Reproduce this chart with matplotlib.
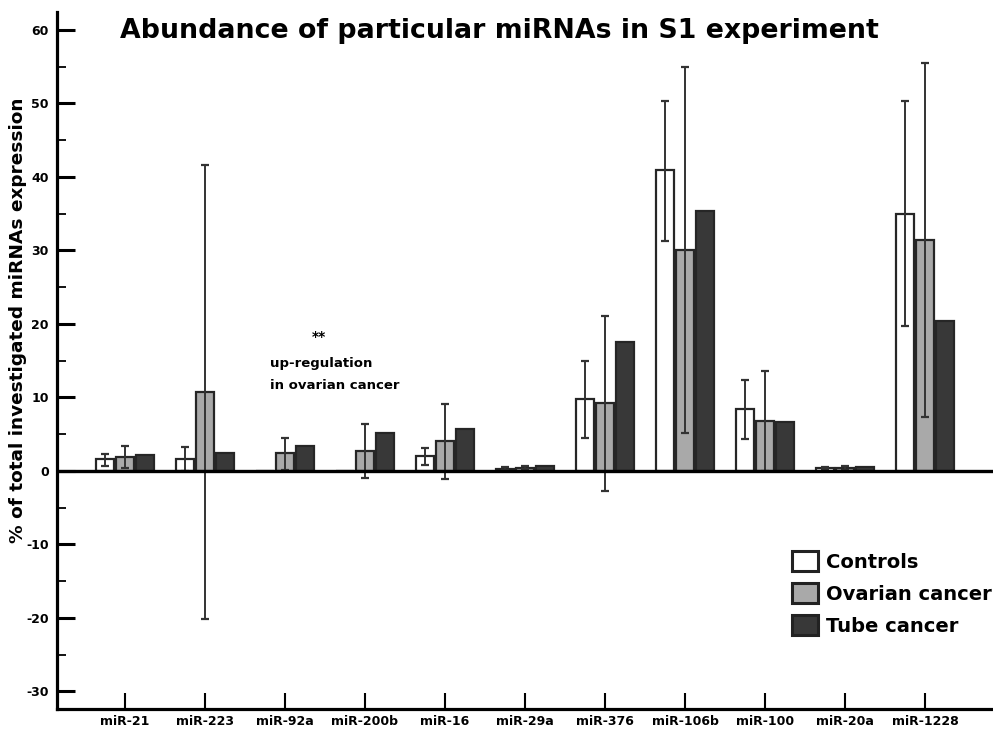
import numpy as np
import matplotlib
matplotlib.use("Agg")
import matplotlib.pyplot as plt
from matplotlib.patches import Patch

plt.rcParams["axes.unicode_minus"] = False

categories = ["miR-21", "miR-223", "miR-92a", "miR-200b", "miR-16", "miR-29a",
              "miR-376", "miR-106b", "miR-100", "miR-20a", "miR-1228"]
series = ["Controls", "Ovarian cancer", "Tube cancer"]

controls = [1.6, 1.6, 0.05, 0.05, 2.0, 0.32, 9.8, 40.9, 8.4, 0.37, 35.0]
ovarian = [1.9, 10.7, 2.4, 2.7, 4.1, 0.45, 9.2, 30.0, 6.8, 0.37, 31.4]
tube = [2.1, 2.4, 3.45, 5.1, 5.76, 0.73, 17.6, 35.4, 6.7, 0.6, 20.4]

controls_low = [0.7, 0.0, np.nan, np.nan, 0.86, 0.1, 4.5, 31.3, 4.4, 0.2, 19.7]
controls_high = [2.3, 3.2, np.nan, np.nan, 3.13, 0.5, 15.0, 50.3, 12.4, 0.5, 50.3]
ovarian_low = [0.36, -20.2, 0.14, -0.9, -1.13, 0.2, -2.8, 5.2, 0.0, 0.1, 7.4]
ovarian_high = [3.45, 41.6, 4.45, 6.35, 9.16, 0.7, 21.1, 55.0, 13.6, 0.7, 55.5]

yticks = [-30, -20, -10, 0, 10, 20, 30, 40, 50, 60]

colors = ["#ffffff", "#a9a9a9", "#383838"]
edge = "#262626"

fig = plt.figure(figsize=(9.93, 7.32), dpi=100)
ax = fig.add_axes([57 / 993, 23 / 732, 1 - 57 / 993, (709 - 12) / 732])

x = np.arange(len(categories))
w = 0.225
off = 0.25
vals = [controls, ovarian, tube]
for i, (v, c) in enumerate(zip(vals, colors)):
    ax.bar(x + (i - 1) * off, v, width=w, color=c, edgecolor=edge, linewidth=1.6, zorder=2)

for i, (lo, hi, v) in enumerate([(controls_low, controls_high, controls),
                                 (ovarian_low, ovarian_high, ovarian)]):
    v = np.array(v)
    lo = np.array(lo)
    hi = np.array(hi)
    m = ~np.isnan(lo)
    ax.errorbar(x[m] + (i - 1) * off, v[m], yerr=[v[m] - lo[m], hi[m] - v[m]],
                fmt="none", ecolor="#333333", elinewidth=1.4, capsize=3.2,
                capthick=1.6, zorder=3)

ax.axhline(0, color="black", linewidth=2.4, zorder=4)

ax.set_xlim(-0.85, 10.85)
ax.set_ylim(-32.4, 62.45)

ax.spines["top"].set_visible(False)
ax.spines["right"].set_visible(False)
ax.spines["left"].set_linewidth(2.3)
ax.spines["bottom"].set_linewidth(2.3)

ax.set_yticks(yticks)
ax.set_yticklabels([str(t) for t in yticks])
ax.set_yticks(np.arange(-25, 60, 10), minor=True)
ax.tick_params(axis="y", which="major", direction="in", length=13, width=2.2,
               labelsize=9, pad=6)
ax.tick_params(axis="y", which="minor", direction="in", length=6.5, width=1.3)
for lab in ax.get_yticklabels():
    lab.set_fontweight("bold")

ax.set_xticks(x)
ax.set_xticklabels(categories, fontsize=9, fontweight="bold")
ax.tick_params(axis="x", direction="in", length=11.5, width=1.5, pad=4)

fig.text(18 / 993, 1 - 320 / 732, "% of total investigated miRNAs expression",
         rotation=90, ha="center", va="center", fontsize=13.3, fontweight="bold")

fig.text(499 / 993, 1 - 31 / 732, "Abundance of particular miRNAs in S1 experiment",
         ha="center", va="center", fontsize=19.3, fontweight="bold")

ax.text(2.43, 18.2, "**", ha="center", va="center", fontsize=10, fontweight="bold")
ax.text(1.81, 14.6, "up-regulation", ha="left", va="center", fontsize=9.5, fontweight="bold")
ax.text(1.81, 11.6, "in ovarian cancer", ha="left", va="center", fontsize=9.5, fontweight="bold")

handles = [Patch(facecolor=c, edgecolor="#222222", linewidth=2.2) for c in colors]
leg = fig.legend(handles, series, loc="upper left",
                 bbox_to_anchor=(792 / 993, 1 - 551 / 732), frameon=False,
                 prop={"weight": "bold", "size": 14}, handlelength=1.35,
                 handleheight=1.2, handletextpad=0.4, labelspacing=0.6,
                 borderaxespad=0, borderpad=0)

fig.savefig("out.png", dpi=100)
